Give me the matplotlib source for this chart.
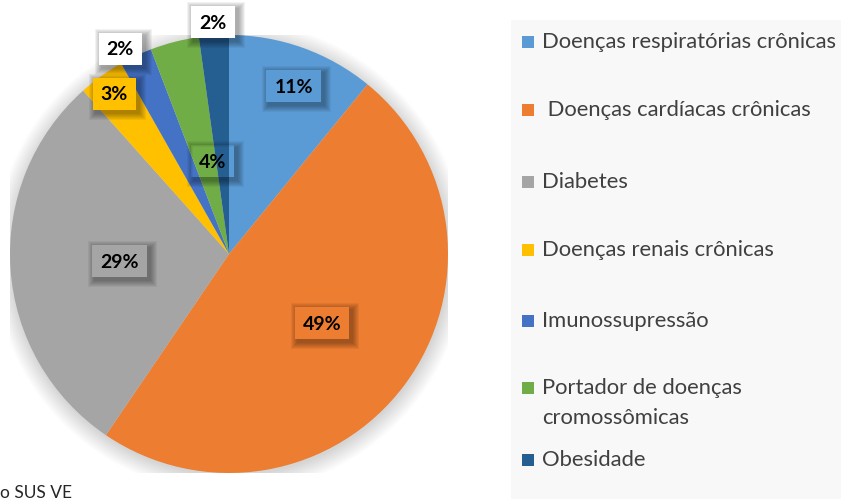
import matplotlib
matplotlib.use('Agg')
import matplotlib.pyplot as plt
from matplotlib.patches import Rectangle, Circle, PathPatch
from matplotlib.path import Path
from matplotlib.transforms import IdentityTransform
import numpy as np

categories = ["Doenças respiratórias crônicas", " Doenças cardíacas crônicas", "Diabetes",
              "Doenças renais crônicas", "Imunossupressão",
              "Portador de doenças\ncromossômicas", "Obesidade"]
values = [10.9, 48.6, 28.9, 3.4, 2.4, 3.6, 2.2]
pct_labels = ["11%", "49%", "29%", "3%", "2%", "4%", "2%"]
colors = ["#5B9BD5", "#ED7D31", "#A5A5A5", "#FFC000", "#4472C4", "#70AD47", "#255E91"]

# label placement (fraction of radius) and box fills
label_radius = [0.82, 0.53, 0.50, 0.90, 1.06, 0.43, 1.06]
label_angle_shift = [-1.5, 0, 0, 0, 2.7, -4.5, 0]
label_box_face = ["#5B9BD5", "#ED7D31", "#A5A5A5", "#FFC000", "white", "none", "white"]

W, H = 841, 502
plt.rcParams['font.family'] = ['Lato', 'DejaVu Sans']
fig = plt.figure(figsize=(W / 100, H / 100), dpi=100)
fig.patch.set_facecolor('white')

cx, cy, r = 229, 255, 219
ax = fig.add_axes([(cx - r) / W, (H - cy - r) / H, 2 * r / W, 2 * r / H])

# soft shadow around pie
for i in range(14):
    ax.add_patch(Circle((0.004, -0.012), 1.0 + 0.006 * i, color='k', alpha=0.013, lw=0, zorder=0))

wedges, _ = ax.pie(values, colors=colors, startangle=90, counterclock=False, radius=1,
                   wedgeprops=dict(linewidth=0, zorder=2))
ax.set_xlim(-1, 1)
ax.set_ylim(-1, 1)
ax.set_aspect('equal')
ax.axis('off')

texts = []
for w, lab, rr, dth in zip(wedges, pct_labels, label_radius, label_angle_shift):
    th = np.deg2rad((w.theta1 + w.theta2) / 2 + dth)
    x, y = rr * np.cos(th), rr * np.sin(th)
    t = ax.text(x, y, lab, ha='center', va='center', fontsize=14, fontweight='bold',
                color='black', zorder=6, clip_on=False)
    texts.append(t)

fig.canvas.draw()
renderer = fig.canvas.get_renderer()


def rect_verts(x0, y0, x1, y1):
    return [(x0, y0), (x1, y0), (x1, y1), (x0, y1), (x0, y0)]


codes = ([Path.MOVETO] + [Path.LINETO] * 3 + [Path.CLOSEPOLY]) * 2
for t, fc in zip(texts, label_box_face):
    bb = t.get_window_extent(renderer)
    mxc, myc = (bb.x0 + bb.x1) / 2, (bb.y0 + bb.y1) / 2
    bw, bh = bb.width + 16, 32
    x0, x1 = mxc - bw / 2, mxc + bw / 2
    y0, y1 = myc - bh / 2, myc + bh / 2
    if fc != 'none':
        p = Rectangle((x0, y0), bw, bh, transform=IdentityTransform(),
                      fc=fc, ec='none', zorder=5)
        ax.add_artist(p)
        p.set_clip_on(False)
    # blurred shadow, offset down-right, outside the box only
    for s in range(1, 8):
        ox, oy = 3, -3
        outer = rect_verts(x0 + ox - s, y0 + oy - s, x1 + ox + s, y1 + oy + s)
        inner = rect_verts(x0, y0, x1, y1)[::-1]
        sp = PathPatch(Path(outer + inner, codes), transform=IdentityTransform(),
                       fc='black', ec='none', alpha=0.05, zorder=4)
        ax.add_artist(sp)
        sp.set_clip_on(False)

# legend panel
fig.patches.append(Rectangle((511 / W, (H - 500) / H), (W - 511) / W, (500 - 21) / H,
                             transform=fig.transFigure, fc='#F8F8F8', ec='none', zorder=0))
leg_y = [42, 110, 182, 250, 321, 388, 460]
for cat, col, yy in zip(categories, colors, leg_y):
    fig.patches.append(Rectangle((522 / W, (H - yy - 7) / H), 12 / W, 12 / H,
                                 transform=fig.transFigure, fc=col, ec='none', zorder=2))
    for k, line in enumerate(cat.split('\n')):
        fig.text(542 / W, (H - yy - 30 * k) / H, line, ha='left', va='center',
                 fontsize=15.8, color='#404040')

fig.text(0, 1 / H, "o SUS VE", ha='left', va='bottom', fontsize=12.5, color='#262626')

fig.savefig('out.png', dpi=100)
